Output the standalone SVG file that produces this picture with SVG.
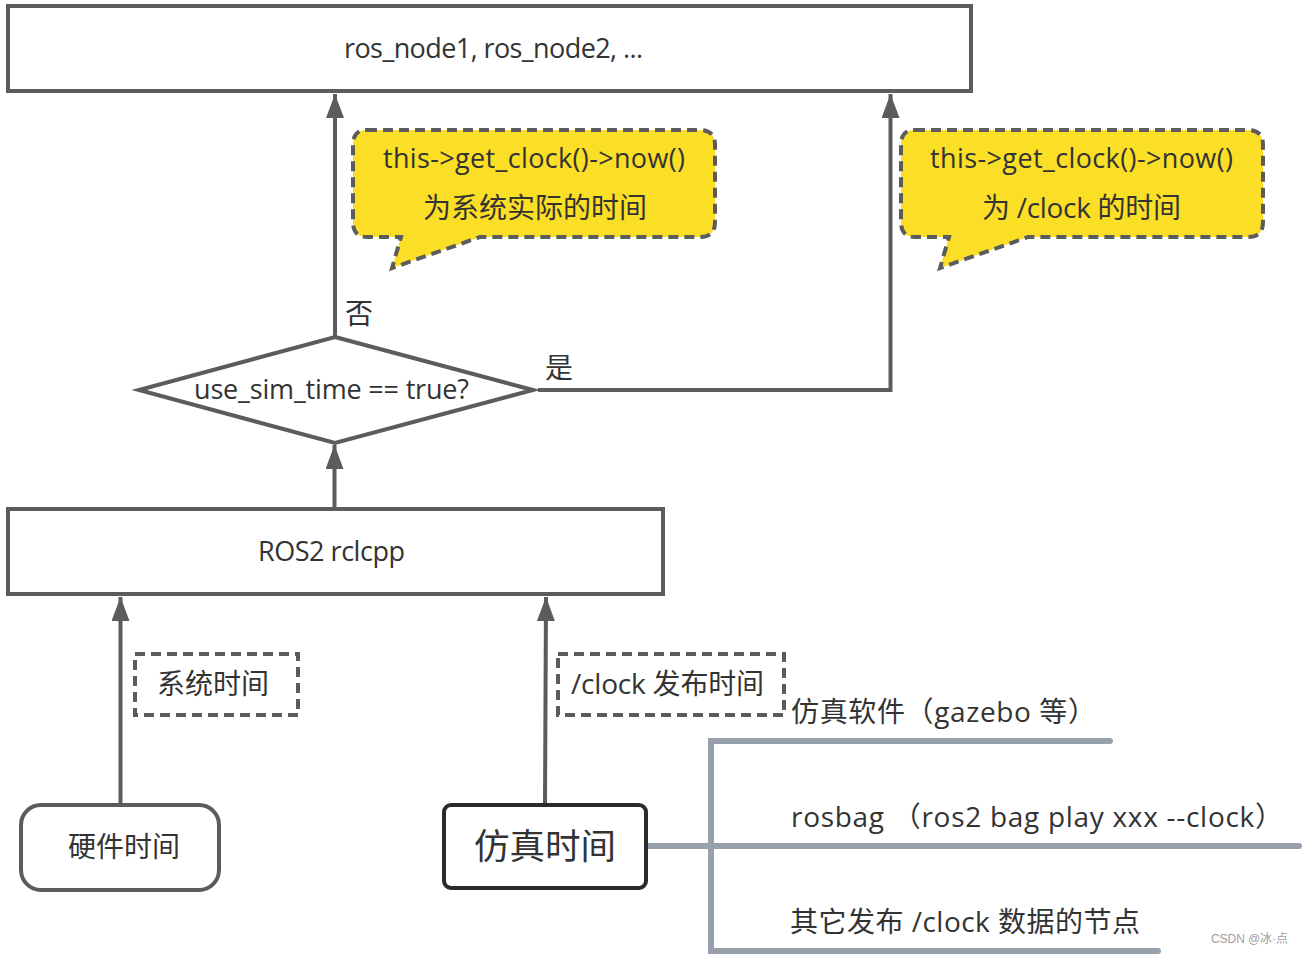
<svg xmlns="http://www.w3.org/2000/svg" width="1303" height="955" viewBox="0 0 1303 955">
<style>
text{font-family:"Open Sans","Noto Sans CJK SC",sans-serif;fill:#333;font-size:27px}
.c{font-size:28px}
.box{fill:#fff;stroke:#5c5c5c;stroke-width:4}
.call{fill:#fbde26;stroke:#5c5c5c;stroke-width:4;stroke-dasharray:10 6}
.lab{fill:#fff;stroke:#5c5c5c;stroke-width:4;stroke-dasharray:10 6}
.con{fill:none;stroke:#5c5c5c;stroke-width:4}
.br{fill:none;stroke:#98a1ab;stroke-width:6;stroke-linecap:round}
</style>
<defs><marker id="a" markerUnits="userSpaceOnUse" markerWidth="24" markerHeight="18" refX="24" refY="9" orient="auto"><path d="M0 0L24 9L0 18z" fill="#5c5c5c"/></marker></defs>
<rect width="1303" height="955" fill="#fff"/>
<g id="connectors">
<path class="con" d="M335 337V94" marker-end="url(#a)"/>
<path class="con" d="M538 390H890.500V94" marker-end="url(#a)"/>
<path class="con" d="M334.500 508V445" marker-end="url(#a)"/>
<path class="con" d="M120.500 804V597" marker-end="url(#a)"/>
<path class="con" d="M545 804L546 597" marker-end="url(#a)"/>
<path class="br" d="M1110 741H711V951H1158M648 846H1299"/>
</g>
<g id="top"><rect class="box" x="8" y="6" width="963" height="85"/><text x="344" y="58" textLength="299">ros_node1, ros_node2, ...</text></g>
<g id="callout1"><path class="call" d="M367 130H700Q715 130 715 145V222Q715 237 700 237H480L392 268L401 237H367Q353 237 353 222V145Q353 130 367 130Z"/><text x="383" y="168" textLength="302">this-&gt;get_clock()-&gt;now()</text><text class="c" x="423" y="218">为系统实际的时间</text></g>
<g id="callout2"><path class="call" d="M915 130H1248Q1263 130 1263 145V222Q1263 237 1248 237H1028L940 268L949 237H915Q901 237 901 222V145Q901 130 915 130Z"/><text x="930" y="168" textLength="303">this-&gt;get_clock()-&gt;now()</text><text class="c" x="982" y="218" textLength="199">为 /clock 的时间</text></g>
<g id="decision"><path class="box" d="M335 337L533 390L335 443L139 390Z"/><text x="194" y="399" textLength="275">use_sim_time == true?</text></g>
<g id="no"><text class="c" x="345" y="324">否</text></g>
<g id="yes"><text class="c" x="545" y="378">是</text></g>
<g id="rclcpp"><rect class="box" x="8" y="509" width="655" height="85"/><text x="258" y="561" textLength="147">ROS2 rclcpp</text></g>
<g id="label-sys"><rect class="lab" x="135" y="654" width="163" height="61"/><text class="c" x="157" y="694">系统时间</text></g>
<g id="label-clock"><rect class="lab" x="558" y="654" width="226" height="61"/><text class="c" x="571" y="694" textLength="193">/clock 发布时间</text></g>
<g id="hw"><rect class="box" x="21" y="805" width="198" height="85" rx="20"/><text class="c" x="68" y="857">硬件时间</text></g>
<g id="sim"><rect x="444" y="805" width="202" height="83" rx="7" fill="#fff" stroke="#2b2b2b" stroke-width="4"/><text x="474" y="859" style="font-size:35.500px">仿真时间</text></g>
<g id="b1"><text class="c" x="791" y="722" textLength="305">仿真软件（gazebo 等）</text></g>
<g id="b2"><text class="c" x="791" y="827" textLength="492">rosbag （ros2 bag play xxx --clock）</text></g>
<g id="b3"><text class="c" x="790" y="932" textLength="350">其它发布 /clock 数据的节点</text></g>
<text x="1211" y="943" textLength="77" style="font-size:12px;fill:#a0a0a0;font-family:'Liberation Sans','Noto Sans CJK SC',sans-serif">CSDN @冰·点</text>
</svg>
